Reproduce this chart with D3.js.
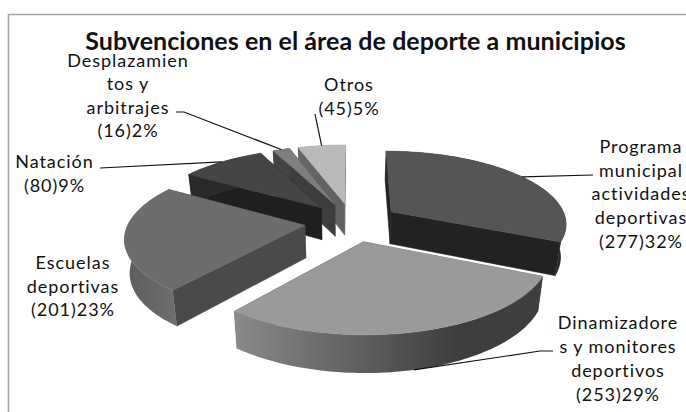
<!DOCTYPE html>
<html><head><meta charset="utf-8">
<script src="https://cdn.jsdelivr.net/npm/d3@7/dist/d3.min.js"></script>
<style>html,body{margin:0;padding:0;background:#fff;overflow:hidden}svg{display:block}text{font-family:Lato,"Open Sans",sans-serif;fill:#111}</style>
</head><body><svg id="c" width="686" height="412"></svg>
<script>
const categories = ["Programa municipal actividades deportivas","Dinamizadores y monitores deportivos","Escuelas deportivas","Natación","Desplazamientos y arbitrajes","Otros"];
const values = [277,253,201,80,16,45];
const percents = [32,29,23,9,2,5];
const labelLines = [
  ["Programa","municipal","actividades","deportivas"],
  ["Dinamizadore","s y monitores","deportivos"],
  ["Escuelas","deportivas"],
  ["Natación"],
  ["Desplazamien","tos y","arbitrajes"],
  ["Otros"]
];
const titleText = "Subvenciones en el área de deporte a municipios";

// styles & layout (separate from the data)
const topFill  = ["#555555","#9a9a9a","#6d6d6d","#454545","#7e7e7e","#bababa"];
const wallFill = ["#222222","#555555","#4a4a4a","#1f1f1f","#3d3d3d","#626262"];
const rimStops = [["#2a2a2a","#2a2a2a"],["#8a8a8a","#3e3e3e"],["#5c5c5c","#6e6e6e"],["#2a2a2a","#2a2a2a"],["#444","#444"],["#666","#666"]];
const labelPos = [
  {x:641,y:153,dy:23.7},{x:618,y:329,dy:24},{x:73,y:269,dy:23.7},
  {x:54.5,y:168,dy:24},{x:128,y:66.5,dy:23.5},{x:349,y:91,dy:24}
];
const leaderElbow = [[593,175],[553,351],null,[100,168],[176,112],[315,114]];
const leaderElbow2 = [null,[540,351],null,null,[184,112],null];

const W=686,H=412, cx=352, cy=222, R=176, S=72.4, K=0.15, E=0.27;
const svg=d3.select("#c");
const defs=svg.append("defs");

const arcs=d3.pie().sort(null).value(d=>d).startAngle(0).endAngle(2*Math.PI)(values);

// projective map of the tilted disc onto the page
function proj(u,v){const d=1-K*v;return [cx+R*u/d, cy+S*v/d];}
function rim(i,a,r=1){const b=(arcs[i].startAngle+arcs[i].endAngle)/2;
  return proj(E*Math.sin(b)+r*Math.sin(a), -E*Math.cos(b)-r*Math.cos(a));}
function drop(p){const depth=29+(p[1]-150)*0.05;return [345+(p[0]-345)*0.976,p[1]+depth];}
const line=d3.line();
const samples=(a0,a1)=>{const n=Math.max(3,Math.ceil((a1-a0)*40));return d3.range(n+1).map(k=>a0+(a1-a0)*k/n);};

const g=svg.append("g");
// frame
g.append("path").attr("d","M8.5,412V14.5H686").attr("fill","none").attr("stroke","#a3a3a3").attr("stroke-width",1.6);

// painter's order: back slices first
const order=[5,4,3,2,1,0];
order.forEach(i=>{
  const a=arcs[i], ang=samples(a.startAngle,a.endAngle);
  const apex=rim(i,0,0), pts=ang.map(t=>rim(i,t));
  const first=pts[0], last=pts[pts.length-1];
  const sg=g.append("g").attr("class","slice").datum(categories[i]);
  // radial walls
  [first,last].forEach(p=>{
    sg.append("path").attr("d",line([apex,p,drop(p),drop(apex)])+"Z").attr("fill",wallFill[i]).attr("stroke",wallFill[i]).attr("stroke-width",.5);
  });
  // outer wall
  const xs=d3.extent(pts,p=>p[0]);
  const id="rim"+i;
  const gr=defs.append("linearGradient").attr("id",id).attr("gradientUnits","userSpaceOnUse")
    .attr("x1",xs[0]).attr("x2",i===1?xs[0]+(xs[1]-xs[0])*0.72:xs[1]).attr("y1",0).attr("y2",0);
  gr.append("stop").attr("offset",0).attr("stop-color",rimStops[i][0]);
  gr.append("stop").attr("offset",1).attr("stop-color",rimStops[i][1]);
  sg.append("path").attr("d",line(pts.concat(pts.map(drop).reverse()))+"Z").attr("fill",`url(#${id})`);
  // top face
  sg.append("path").attr("d",line([apex].concat(pts))+"Z").attr("fill",topFill[i]).attr("stroke",topFill[i]).attr("stroke-width",.5);
});

// leader lines
arcs.forEach((a,i)=>{
  if(!leaderElbow[i])return;
  const b=(a.startAngle+a.endAngle)/2;
  let end=rim(i,b); if(i===1) end=drop(end);
  const p=[leaderElbow[i]]; if(leaderElbow2[i])p.push(leaderElbow2[i]); p.push(end);
  g.append("path").attr("d",line(p)).attr("fill","none").attr("stroke","#111").attr("stroke-width",1.2);
});

// labels
labelLines.forEach((ls,i)=>{
  const all=ls.concat([`(${values[i]})${percents[i]}%`]), lp=labelPos[i];
  const t=g.append("text").attr("text-anchor","middle").attr("font-size",18).attr("letter-spacing",0.95);
  all.forEach((s,k)=>t.append("tspan").attr("x",lp.x).attr("y",lp.y+lp.dy*k).text(s));
});
g.append("text").attr("x",355.5).attr("y",50).attr("text-anchor","middle").attr("font-size",25).attr("font-weight",700).attr("letter-spacing",0.05).text(titleText);
</script></body></html>
